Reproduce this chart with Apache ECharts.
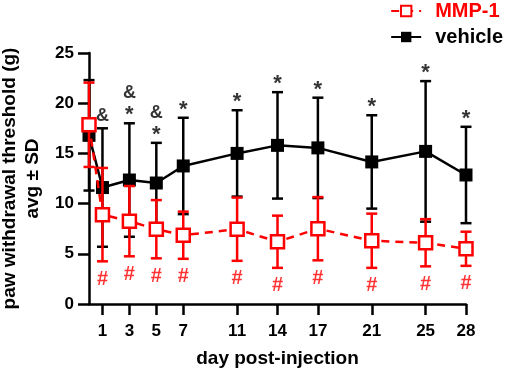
<!DOCTYPE html>
<html>
<head>
<meta charset="utf-8">
<script src="https://cdn.jsdelivr.net/npm/echarts@6/dist/echarts.min.js"></script>
<style>
  html, body { margin: 0; padding: 0; background: #fff; }
  #main { width: 505px; height: 371px; }
</style>
</head>
<body>
<div id="main"></div>
<script>
// days
var days = [0, 1, 3, 5, 7, 11, 14, 17, 21, 25, 28];
var dayTicks = [1, 3, 5, 7, 11, 14, 17, 21, 25, 28];

// vehicle mean and SD
var vehMean = [16.8, 11.6, 12.35, 12.05, 13.75, 15.0, 15.8, 15.55, 14.15, 15.2, 12.85];
var vehSD = [5.5, 5.9, 5.65, 4.0, 4.8, 4.3, 5.3, 5.0, 4.65, 7.0, 4.8];

// MMP-1 mean and SD
var mmpMean = [17.85, 8.9, 8.25, 7.45, 6.85, 7.45, 6.2, 7.5, 6.3, 6.1, 5.5];
var mmpSD = [4.2, 4.65, 3.5, 2.9, 2.35, 3.15, 2.6, 3.15, 2.7, 2.35, 1.7];

// significance marks
var vehMarks = ['', '&', '&\n*', '&\n*', '*', '*', '*', '*', '*', '*', '*'];
var mmpMarks = ['', '#', '#', '#', '#', '#', '#', '#', '#', '#', '#'];

var FONT = 'Liberation Sans, Arial, sans-serif';
var RED = '#ff0000';

function pts(mean) {
    return days.map(function (d, i) { return [d, mean[i]]; });
}
function bars(mean, sd) {
    return days.map(function (d, i) { return [d, mean[i] - sd[i], mean[i] + sd[i]]; });
}

function errorBar(color) {
    return function (params, api) {
        var x = api.value(0);
        var lo = api.coord([x, api.value(1)]);
        var hi = api.coord([x, api.value(2)]);
        var w = 5.5;
        var style = { stroke: color, lineWidth: 2.5 };
        return {
            type: 'group',
            children: [
                { type: 'line', shape: { x1: lo[0], y1: lo[1], x2: hi[0], y2: hi[1] }, style: style },
                { type: 'line', shape: { x1: lo[0] - w, y1: lo[1], x2: lo[0] + w, y2: lo[1] }, style: style },
                { type: 'line', shape: { x1: hi[0] - w, y1: hi[1], x2: hi[0] + w, y2: hi[1] }, style: style }
            ]
        };
    };
}

function markFormatter(p) {
    // '*' and '&' get different sizes
    return p.value[2].split('\n').map(function (s) {
        return s === '*' ? '{s|*}' : (s === '&' ? '{a|&}' : s);
    }).join('\n');
}

var dom = echarts.init(document.getElementById('main'));

var option = {
    backgroundColor: '#fff',
    animation: false,
    grid: { left: 89, right: 39, top: 53, bottom: 67, containLabel: false, outerBoundsMode: 'none' },
    legend: {
        orient: 'vertical',
        right: 2,
        top: 1,
        padding: 0,
        itemWidth: 30,
        itemHeight: 13,
        itemGap: 6,
        textStyle: { fontFamily: FONT, fontWeight: 'bold', fontSize: 20, color: '#000', padding: [0, 0, 0, 9] },
        data: [
            { name: 'MMP-1', textStyle: { color: RED } },
            { name: 'vehicle' }
        ]
    },
    xAxis: {
        type: 'value',
        min: 0,
        max: 28,
        name: 'day post-injection',
        nameLocation: 'middle',
        nameGap: 45,
        nameTextStyle: { fontFamily: FONT, fontWeight: 'bold', fontSize: 19, color: '#000' },
        axisLine: { lineStyle: { color: '#000', width: 2.5 } },
        axisTick: { show: true, length: 11, lineStyle: { color: '#000', width: 2.5 }, customValues: dayTicks },
        axisLabel: { fontFamily: FONT, fontWeight: 'bold', fontSize: 17, color: '#000', margin: 19, customValues: dayTicks },
        splitLine: { show: false }
    },
    yAxis: {
        type: 'value',
        min: 0,
        max: 25,
        interval: 5,
        name: 'paw withdrawal threshold (g)\navg \u00b1 SD',
        nameLocation: 'middle',
        nameGap: 38,
        nameTextStyle: { fontFamily: FONT, fontWeight: 'bold', fontSize: 19, color: '#000', lineHeight: 23 },
        axisLine: { show: true, lineStyle: { color: '#000', width: 2.5 } },
        axisTick: { show: true, length: 11, lineStyle: { color: '#000', width: 2.5 } },
        axisLabel: { fontFamily: FONT, fontWeight: 'bold', fontSize: 17, color: '#000', margin: 15 },
        splitLine: { show: false }
    },
    series: [
        {
            name: 'vehicle',
            type: 'line',
            data: pts(vehMean),
            symbol: 'rect',
            symbolSize: 13,
            itemStyle: { color: '#000' },
            lineStyle: { color: '#000', width: 2.5 },
            z: 3
        },
        {
            type: 'custom',
            renderItem: errorBar('#000'),
            data: bars(vehMean, vehSD),
            encode: { x: 0, y: [1, 2] },
            silent: true,
            z: 2
        },
        {
            type: 'scatter',
            data: days.map(function (d, i) { return [d, vehMean[i] + vehSD[i], vehMarks[i]]; }),
            symbolSize: 0,
            silent: true,
            label: {
                show: true,
                position: 'top',
                distance: 2,
                formatter: markFormatter,
                color: '#000',
                rich: {
                    s: { fontFamily: FONT, fontWeight: 'bold', fontSize: 22, lineHeight: 18, color: '#000', padding: [6, 0, 0, 0] },
                    a: { fontFamily: FONT, fontWeight: 'bold', fontSize: 18, lineHeight: 20, color: '#000' }
                }
            }
        },
        {
            type: 'custom',
            renderItem: errorBar(RED),
            data: bars(mmpMean, mmpSD),
            encode: { x: 0, y: [1, 2] },
            silent: true,
            z: 4
        },
        {
            name: 'MMP-1',
            type: 'line',
            data: pts(mmpMean),
            symbol: 'rect',
            symbolSize: 13,
            itemStyle: { color: '#fff', borderColor: RED, borderWidth: 2.5 },
            lineStyle: { color: RED, width: 2.5, type: [8, 6] },
            z: 5
        },
        {
            type: 'scatter',
            data: days.map(function (d, i) { return [d, mmpMean[i] - mmpSD[i], mmpMarks[i]]; }),
            symbolSize: 0,
            silent: true,
            label: {
                show: true,
                position: 'bottom',
                distance: 8,
                formatter: function (p) { return p.value[2]; },
                fontFamily: FONT,
                fontWeight: 'bold',
                fontSize: 20,
                color: RED
            }
        }
    ]
};

dom.setOption(option);
</script>
</body>
</html>
